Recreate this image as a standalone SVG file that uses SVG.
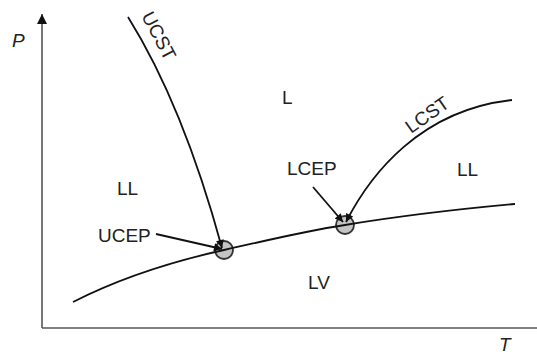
<svg xmlns="http://www.w3.org/2000/svg" width="537" height="355" viewBox="0 0 537 355">
<style>
text{font-family:"Liberation Sans",Arial,sans-serif;font-size:19px;fill:#222}
.it{font-style:italic}
.c{fill:none;stroke:#111;stroke-width:1.8}
.ax{fill:none;stroke:#555;stroke-width:1.6}
.pt{fill:#c4c4c4;stroke:#333;stroke-width:1.8}
</style>
<defs>
<marker id="ah" viewBox="0 0 10 10" refX="10" refY="5" markerWidth="9" markerHeight="8" markerUnits="userSpaceOnUse" orient="auto">
<path d="M0,0 L10,5 L0,10 z" fill="#111"/>
</marker>
<marker id="axh" viewBox="0 0 10 10" refX="10" refY="5" markerWidth="10" markerHeight="12" markerUnits="userSpaceOnUse" orient="auto">
<path d="M0,0 L10,5 L0,10 z" fill="#111"/>
</marker>
</defs>
<g id="axes">
<path class="ax" d="M42,328 L42,14" marker-end="url(#axh)"/>
<path class="ax" d="M42,328 L537,328"/>
<text class="it" x="12" y="47">P</text>
<text class="it" x="499" y="351">T</text>
</g>
<g id="UCEP">
<circle class="pt" cx="224" cy="250" r="9"/>
</g>
<g id="LCEP">
<circle class="pt" cx="345" cy="225" r="9"/>
</g>
<g id="connectors">
<path class="c" d="M73,302 C120,278 170,262 224,250 C265,241 300,232 345,225 C400,216 460,209 515,204"/>
<path class="c" d="M128,17 Q183,105 222,248" marker-end="url(#ah)"/>
<path class="c" d="M512,100 C420,110 370,175 346,222" marker-end="url(#ah)"/>
<path class="c" d="M156,234 L222,249" marker-end="url(#ah)"/>
<path class="c" d="M313,187 L343,222" marker-end="url(#ah)"/>
</g>
<g id="labels">
<text x="0" y="0" transform="translate(141,16) rotate(62)">UCST</text>
<text x="0" y="0" transform="translate(411,134) rotate(-35)">LCST</text>
<text x="282" y="104">L</text>
<text x="117" y="195">LL</text>
<text x="457" y="176">LL</text>
<text x="98" y="242">UCEP</text>
<text x="287" y="175">LCEP</text>
<text x="308" y="289">LV</text>
</g>
</svg>
